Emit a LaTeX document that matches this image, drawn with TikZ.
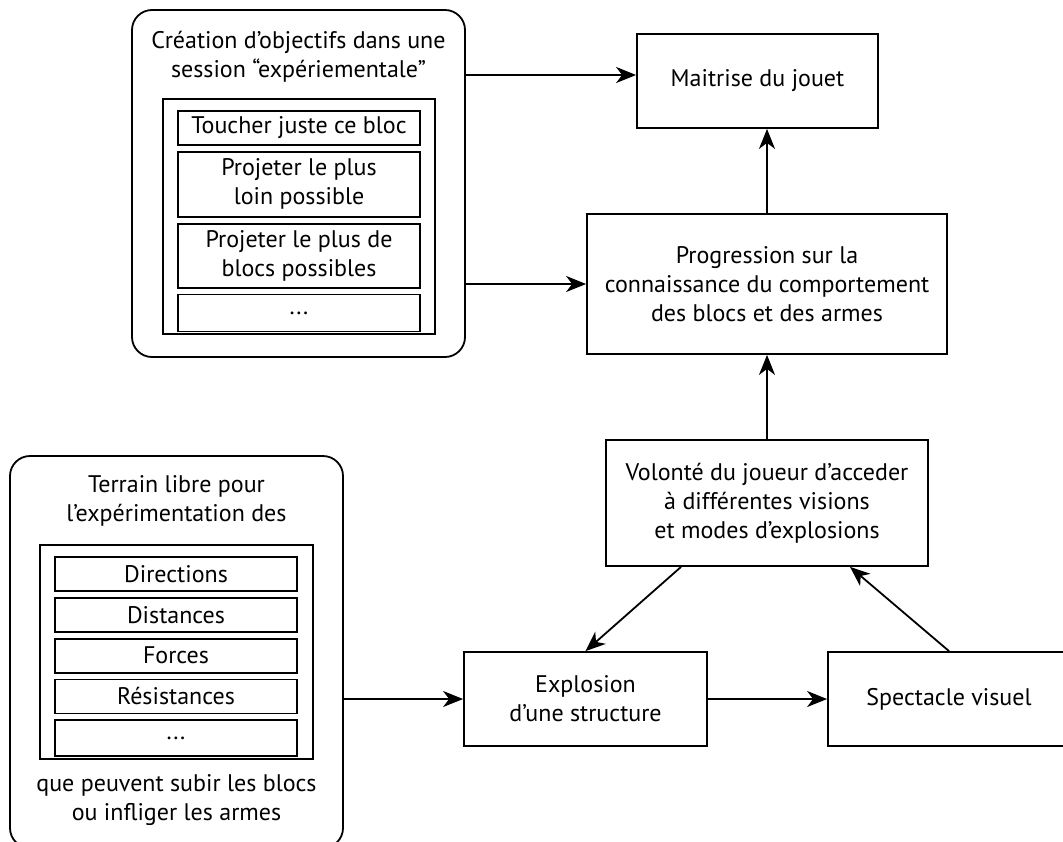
\documentclass[tikz,border=0pt]{standalone}
\usepackage{fontspec}
\setmainfont{PT Sans}
\usetikzlibrary{positioning,arrows.meta}

\begin{document}
\begin{tikzpicture}[%
        x=0.5pt, y=-0.5pt,
        fleche/.style={-{Stealth[length=10pt,width=8pt,inset=3pt]}, line width=0.9pt},
        node distance=2.5pt,
        every node/.style={font=\fontsize{12}{14.5}\selectfont, align=center},
        bloc/.style={%
          rectangle,
          draw,
          line width=0.9pt,
          inner sep=0pt
        },
        cadre/.style={bloc, rounded corners=10pt},
        item/.style={bloc, minimum width=121pt}
      ]
      \useasboundingbox (0,0) rectangle (1063,841);
      % bloc du haut a gauche
      \node[cadre, minimum width=166.5pt, minimum height=173.5pt] (sessionA) at (298.5,183.5) {};
      \node (titreA) at (298.5,57) {Création d’objectifs dans une\\session “expériementale”};
      \node[bloc, minimum width=136pt, minimum height=117.5pt] (listeA) at (299,216.5) {};
      \node[item, minimum height=17pt] (a1) at (299,128) {Toucher juste ce bloc};
      \node[item, minimum height=32.5pt] (a2) [below=of a1] {Projeter le plus\\loin possible};
      \node[item, minimum height=32pt] (a3) [below=of a2] {Projeter le plus de\\blocs possibles};
      \node[item, minimum height=18.5pt] (a4) [below=of a3] {...};
      % bloc du bas a gauche
      \node[cadre, minimum width=166.5pt, minimum height=196pt] (terrainB) at (176.5,652) {};
      \node (titreB) at (176.5,501) {Terrain libre pour\\l’expérimentation des};
      \node[bloc, minimum width=136.5pt, minimum height=107pt] (listeB) at (176.5,652) {};
      \node[item, minimum height=17pt] (b1) at (176,574) {Directions};
      \node[item, minimum height=17pt] (b2) [below=of b1] {Distances};
      \node[item, minimum height=17pt] (b3) [below=of b2] {Forces};
      \node[item, minimum height=17pt] (b4) [below=of b3] {Résistances};
      \node[item, minimum height=18pt] (b5) [below=of b4] {...};
      \node (piedB) at (176.5,800) {que peuvent subir les blocs\\ou infliger les armes};
      % blocs de droite
      \node[bloc, minimum width=120.5pt, minimum height=47pt] (maitrise) at (757.5,81) {Maitrise du jouet};
      \node[bloc, minimum width=180pt, minimum height=70pt] (progression) at (767,284) {Progression sur la\\connaissance du comportement\\des blocs et des armes};
      \node[bloc, minimum width=161pt, minimum height=63pt] (volonte) at (767,503) {Volonté du joueur d’acceder\\à différentes visions\\et modes d’explosions};
      \node[bloc, minimum width=121.5pt, minimum height=47pt] (explosion) at (585.5,699) {Explosion\\d’une structure};
      \node[bloc, minimum width=121pt, minimum height=47pt] (spectacle) at (949,699) {Spectacle visuel};

      \draw[fleche] ([yshift=3pt]sessionA.east |- maitrise.west) -- ([yshift=3pt]maitrise.west);
      \draw[fleche] (sessionA.east |- progression.west) -- (progression.west);
      \draw[fleche] (progression.north) -- (progression.north |- maitrise.south);
      \draw[fleche] (volonte.north) -- (progression.south);
      \draw[fleche] ([xshift=-43pt]volonte.south) -- (explosion.north);
      \draw[fleche] (spectacle.north) -- ([xshift=41.5pt]volonte.south);
      \draw[fleche] (terrainB.east |- explosion.west) -- (explosion.west);
      \draw[fleche] (explosion.east) -- (spectacle.west);
  \end{tikzpicture}
\end{document}
